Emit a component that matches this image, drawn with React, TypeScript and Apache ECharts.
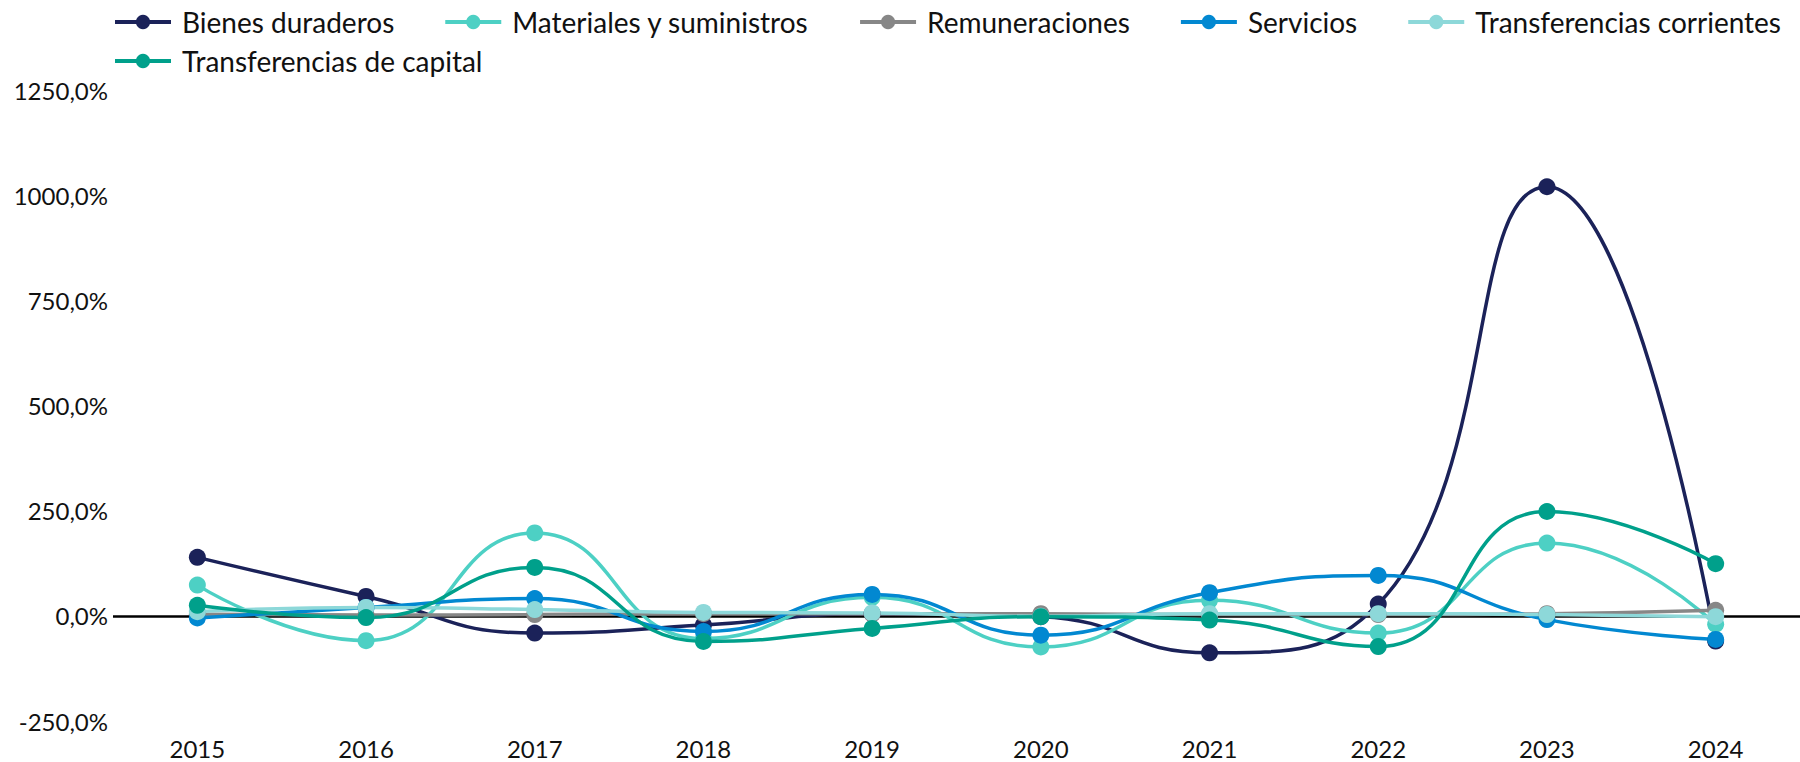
import React, { useEffect, useRef } from "react";
import * as echarts from "echarts";

const years = ["2015", "2016", "2017", "2018", "2019", "2020", "2021", "2022", "2023", "2024"];
const bienesDuraderos = [139, 46, -41, -22, 5, -2, -88, 28, 1020, -60];
const materialesSuministros = [73, -59, 197, -54, 44, -74, 37, -41, 173, -20];
const remuneraciones = [4, 2, 3, 5, 5, 5, 3, 3, 5, 13];
const servicios = [-5, 20, 41, -37, 51, -46, 55, 96, -9, -56];
const transferenciasCorrientes = [10, 20, 15, 8, 7, -1, 5, 5, 3, -2];
const transferenciasCapital = [25, -4, 115, -61, -30, -2, -10, -73, 248, 124];

const seriesNames = [
  "Bienes duraderos",
  "Materiales y suministros",
  "Remuneraciones",
  "Servicios",
  "Transferencias corrientes",
  "Transferencias de capital",
];
const legendRow1 = seriesNames.slice(0, 5);
const legendRow2 = seriesNames.slice(5);
const seriesData = [
  bienesDuraderos,
  materialesSuministros,
  remuneraciones,
  servicios,
  transferenciasCorrientes,
  transferenciasCapital,
];
const seriesColors = ["#1B2259", "#4DD0C4", "#878787", "#0288D1", "#8DD8D9", "#00A08B"];

const yMin = -250;
const yMax = 1250;
const yInterval = 250;

export default function App() {
  const ref = useRef<HTMLDivElement>(null);

  useEffect(() => {
    if (!ref.current) return;
    const chart = echarts.init(ref.current, null, { renderer: "svg" });
    const series: any[] = seriesNames.map((name, i) => ({
      name,
      type: "line",
      data: seriesData[i],
      smooth: true,
      symbol: "circle",
      symbolSize: 17,
      showSymbol: true,
      lineStyle: { width: 3.5, color: seriesColors[i] },
      itemStyle: { color: seriesColors[i] },
      emphasis: { disabled: true },
      z: 3,
    }));
    series[0].markLine = {
      silent: true,
      symbol: "none",
      label: { show: false },
      lineStyle: { color: "#000000", width: 2.5, type: "solid" },
      data: [{ yAxis: 0 }],
      z: 1,
    };

    const legendBase = {
      left: 113,
      padding: 0,
      itemWidth: 56,
      itemHeight: 18,
      itemGap: 49,
      lineStyle: { width: 4 },
      textStyle: { fontFamily: "Lato", fontSize: 28, color: "#111111", padding: [0, 0, 0, 6] },
    };

    chart.setOption({
      animation: false,
      color: seriesColors,
      textStyle: { fontFamily: "Lato" },
      legend: [
        { ...legendBase, top: 8, data: legendRow1 },
        { ...legendBase, top: 47, data: legendRow2 },
      ],
      grid: { left: 113, right: -3, top: 90, bottom: 41, containLabel: false },
      xAxis: {
        type: "category",
        data: years,
        boundaryGap: true,
        axisLine: { show: false, onZero: false },
        axisTick: { show: false },
        splitLine: { show: false },
        axisLabel: { fontFamily: "Lato", fontSize: 24, color: "#111111", margin: 15 },
      },
      yAxis: {
        type: "value",
        min: yMin,
        max: yMax,
        interval: yInterval,
        axisLine: { show: false },
        axisTick: { show: false },
        splitLine: { show: false },
        axisLabel: {
          fontFamily: "Lato",
          fontSize: 24,
          color: "#111111",
          margin: 5,
          formatter: (v: number) => v.toFixed(1).replace(".", ",") + "%",
        },
      },
      series,
    });
    return () => chart.dispose();
  }, []);

  return (
    <div
      ref={ref}
      style={{ position: "absolute", left: 0, top: 0, width: 1800, height: 762 }}
    />
  );
}
